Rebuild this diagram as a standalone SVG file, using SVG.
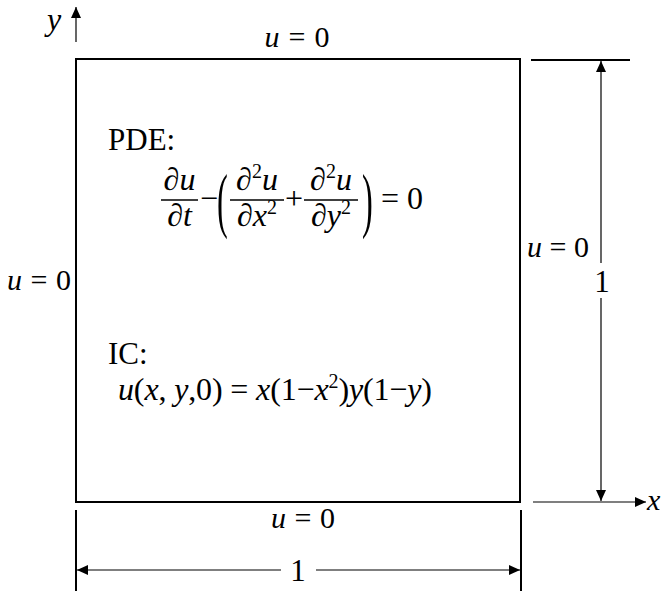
<svg xmlns="http://www.w3.org/2000/svg" width="661" height="592" viewBox="0 0 661 592">
<style>
.t{font-family:"Liberation Serif","Times New Roman",serif;fill:#000}
.i{font-style:italic}
.thick{stroke:#000;stroke-width:2;fill:none}
.thin{stroke:#000;stroke-width:1.2;fill:none}
.bar{stroke:#000;stroke-width:1.3}
</style>
<defs>
<marker id="ah" markerUnits="userSpaceOnUse" markerWidth="12" markerHeight="10" refX="11" refY="5" orient="auto">
<path d="M0,0 L11,5 L0,10 Z" fill="#000"/>
</marker>
</defs>
<rect width="661" height="592" fill="#fff"/>
<g id="domain">
<rect x="76" y="59" width="444" height="443" class="thick"/>
</g>
<g id="connectors">
<line x1="76" y1="42" x2="76" y2="7" class="thin" marker-end="url(#ah)"/>
<line x1="533" y1="502" x2="646" y2="502" class="thin" marker-end="url(#ah)"/>
<line x1="531" y1="60" x2="630" y2="60" class="thick"/>
<line x1="601" y1="263" x2="601" y2="61" class="thin" marker-end="url(#ah)"/>
<line x1="601" y1="298" x2="601" y2="501" class="thin" marker-end="url(#ah)"/>
<line x1="76" y1="510" x2="76" y2="591" class="thick"/>
<line x1="521" y1="510" x2="521" y2="591" class="thick"/>
<line x1="281" y1="570" x2="77" y2="570" class="thin" marker-end="url(#ah)"/>
<line x1="316" y1="570" x2="520" y2="570" class="thin" marker-end="url(#ah)"/>
</g>
<g id="axis-labels">
<text class="t i" x="47" y="30" font-size="32">y</text>
<text class="t i" x="647" y="510" font-size="30">x</text>
</g>
<g id="bc-top"><text class="t" x="297" y="47" font-size="30" text-anchor="middle" textLength="65"><tspan class="i">u</tspan> = 0</text></g>
<g id="bc-right"><text class="t" x="558" y="257" font-size="30" text-anchor="middle" textLength="62"><tspan class="i">u</tspan> = 0</text></g>
<g id="bc-left"><text class="t" x="39" y="290" font-size="30" text-anchor="middle" textLength="64"><tspan class="i">u</tspan> = 0</text></g>
<g id="bc-bottom"><text class="t" x="303" y="528" font-size="30" text-anchor="middle" textLength="64"><tspan class="i">u</tspan> = 0</text></g>
<g id="dim-labels">
<text class="t" x="602" y="292" font-size="31" text-anchor="middle">1</text>
<text class="t" x="298" y="581" font-size="31" text-anchor="middle">1</text>
</g>
<g id="pde">
<text class="t" x="108" y="150" font-size="31">PDE:</text>
<line x1="161" y1="200" x2="198" y2="200" class="bar"/>
<text class="t i" x="179.5" y="190" font-size="32" text-anchor="middle">∂u</text>
<text class="t i" x="179.5" y="226" font-size="32" text-anchor="middle">∂t</text>
<text class="t" x="209" y="209" font-size="32" text-anchor="middle">−</text>
<text class="t" transform="translate(217,224) scale(0.45,1)" font-size="72">(</text>
<line x1="230" y1="200" x2="284" y2="200" class="bar"/>
<text class="t i" x="257" y="190" font-size="32" text-anchor="middle">∂<tspan font-style="normal" font-size="20" dy="-12">2</tspan><tspan dy="12">u</tspan></text>
<text class="t i" x="257" y="226" font-size="32" text-anchor="middle">∂x<tspan font-style="normal" font-size="20" dy="-12">2</tspan></text>
<text class="t" x="294" y="209" font-size="32" text-anchor="middle">+</text>
<line x1="304" y1="200" x2="358" y2="200" class="bar"/>
<text class="t i" x="331" y="190" font-size="32" text-anchor="middle">∂<tspan font-style="normal" font-size="20" dy="-12">2</tspan><tspan dy="12">u</tspan></text>
<text class="t i" x="331" y="226" font-size="32" text-anchor="middle">∂y<tspan font-style="normal" font-size="20" dy="-12">2</tspan></text>
<text class="t" transform="translate(362,224) scale(0.45,1)" font-size="72">)</text>
<text class="t" x="381" y="209" font-size="32">= 0</text>
</g>
<g id="ic">
<text class="t" x="108" y="364" font-size="31">IC:</text>
<text class="t" x="118" y="400" font-size="32" textLength="314"><tspan class="i">u</tspan>(<tspan class="i">x</tspan>, <tspan class="i">y</tspan>,0) = <tspan class="i">x</tspan>(1−<tspan class="i">x</tspan><tspan font-size="20" dy="-12">2</tspan><tspan dy="12">)</tspan><tspan class="i">y</tspan>(1−<tspan class="i">y</tspan>)</text>
</g>
</svg>
